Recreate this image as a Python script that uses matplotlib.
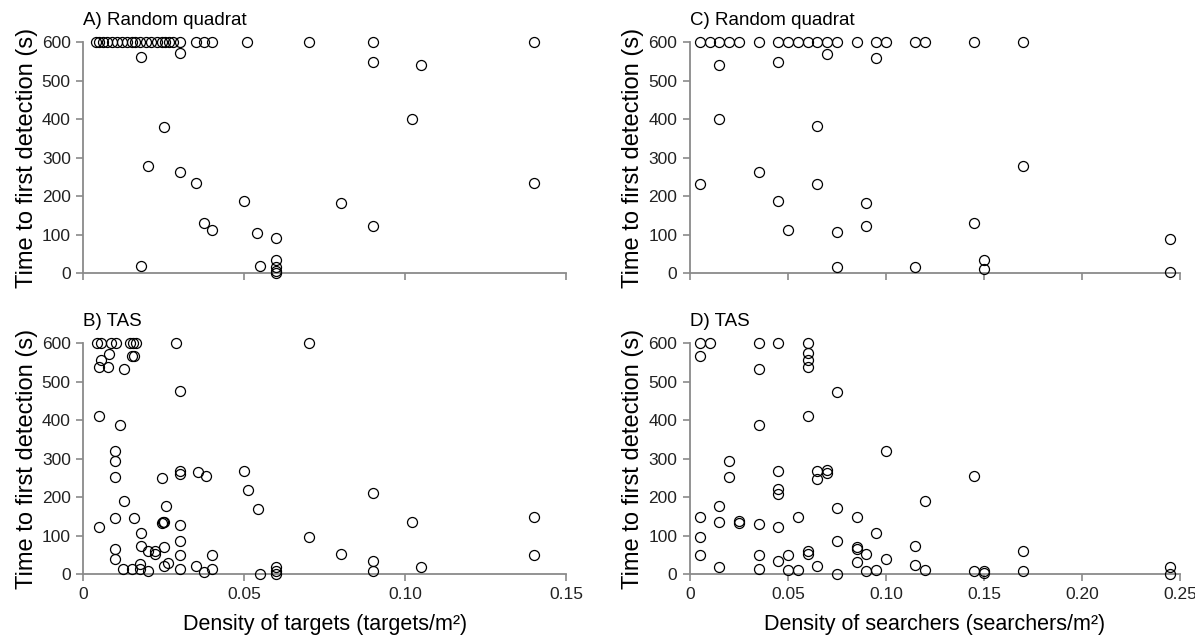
import matplotlib
matplotlib.use('Agg')
import matplotlib.pyplot as plt

plt.rcParams['font.family'] = ['Liberation Sans', 'DejaVu Sans']

# A) random quadrat, time vs density of targets
a_x = [0.004, 0.005, 0.006, 0.0075, 0.009, 0.0105, 0.012, 0.0135, 0.015, 0.016,
       0.0175, 0.0195, 0.021, 0.023, 0.0245, 0.0255, 0.0265, 0.028, 0.030, 0.035,
       0.0375, 0.040, 0.051, 0.070, 0.090, 0.140,
       0.018, 0.030, 0.025, 0.020, 0.030, 0.035, 0.050, 0.0375, 0.040, 0.054,
       0.060, 0.060, 0.060, 0.060, 0.060, 0.055, 0.018, 0.080, 0.090, 0.090,
       0.105, 0.102, 0.140]
a_y = [600] * 26 + [560, 571, 380, 277, 262, 233, 186, 130, 111, 105,
                    91, 33, 16, 5, 0, 17, 17, 182, 121, 547,
                    540, 400, 233]

# B) TAS, time vs density of targets
b_x = [0.0044, 0.0056, 0.0086, 0.0101, 0.0145, 0.0155, 0.0165, 0.0288, 0.070,
       0.008, 0.0056, 0.0048, 0.0076, 0.0125, 0.0151, 0.0157, 0.030, 0.005, 0.0113,
       0.010, 0.010, 0.010, 0.0125, 0.010, 0.005, 0.0157, 0.018, 0.018, 0.010,
       0.010, 0.020, 0.0223, 0.0223, 0.025, 0.0244, 0.0256, 0.0244, 0.0248, 0.0252,
       0.030, 0.030, 0.030, 0.030, 0.030, 0.030, 0.0356, 0.038, 0.040, 0.040,
       0.035, 0.0375, 0.0264, 0.025, 0.0175, 0.0175, 0.0151, 0.0123, 0.020, 0.050,
       0.0512, 0.0543, 0.055, 0.060, 0.060, 0.060, 0.070, 0.080, 0.090, 0.090,
       0.090, 0.102, 0.105, 0.140, 0.140]
b_y = [600, 600, 600, 600, 600, 600, 600, 600, 600,
       571, 556, 539, 539, 532, 565, 565, 476, 411, 388,
       320, 294, 253, 190, 145, 123, 145, 107, 74, 65,
       39, 59, 59, 52, 69, 249, 177, 132, 135, 136,
       268, 260, 128, 85, 50, 13, 266, 254, 50, 13,
       22, 6, 28, 20, 26, 13, 12, 12, 9, 268,
       219, 169, 0, 19, 7, 0, 97, 52, 210, 35,
       7, 134, 19, 147, 50]

# C) random quadrat, time vs density of searchers
c_x = [0.005, 0.010, 0.015, 0.020, 0.025, 0.035, 0.045, 0.050, 0.055, 0.060,
       0.065, 0.070, 0.075, 0.085, 0.095, 0.100, 0.115, 0.120, 0.145, 0.170,
       0.015, 0.015, 0.005, 0.035, 0.045, 0.045, 0.050, 0.065, 0.065, 0.070,
       0.075, 0.075, 0.090, 0.090, 0.095, 0.115, 0.145, 0.150, 0.150, 0.170,
       0.245, 0.245]
c_y = [600] * 20 + [540, 400, 231, 263, 548, 187, 112, 382, 231, 570,
                    106, 16, 181, 121, 559, 16, 130, 33, 10, 278,
                    88, 2]

# D) TAS, time vs density of searchers
d_x = [0.005, 0.010, 0.005, 0.035, 0.045, 0.060, 0.060, 0.060, 0.060, 0.035,
       0.075, 0.060, 0.035, 0.100, 0.020, 0.020, 0.045, 0.065, 0.070, 0.070,
       0.065, 0.145, 0.045, 0.045, 0.120, 0.015, 0.075, 0.005, 0.055, 0.085,
       0.015, 0.025, 0.025, 0.035, 0.045, 0.005, 0.095, 0.075, 0.085, 0.085,
       0.115, 0.060, 0.060, 0.090, 0.170, 0.005, 0.035, 0.050, 0.100, 0.045,
       0.085, 0.015, 0.065, 0.115, 0.035, 0.050, 0.055, 0.120, 0.095, 0.090,
       0.075, 0.145, 0.150, 0.150, 0.170, 0.245, 0.245]
d_y = [600, 600, 565, 600, 600, 600, 573, 556, 539, 532,
       474, 411, 388, 320, 294, 253, 268, 267, 271, 262,
       248, 255, 221, 209, 190, 177, 171, 147, 147, 147,
       134, 137, 132, 130, 123, 97, 107, 85, 69, 65,
       74, 59, 52, 52, 59, 50, 50, 50, 39, 35,
       30, 19, 22, 24, 13, 11, 11, 11, 11, 7,
       0, 7, 9, 2, 9, 19, 0]

panels = [
    ('A) Random quadrat', a_x, a_y, 0.15),
    ('C) Random quadrat', c_x, c_y, 0.25),
    ('B) TAS', b_x, b_y, 0.15),
    ('D) TAS', d_x, d_y, 0.25),
]
xticks_targets = [0, 0.05, 0.10, 0.15]
xticks_searchers = [0, 0.05, 0.10, 0.15, 0.20, 0.25]

fig = plt.figure(figsize=(11.95, 6.37), dpi=100)
lefts = [0.0697, 0.5774]
widths = [0.404, 0.410]
bottoms = [0.5714, 0.0989]
h = 0.3626

axes = []
for i, (title, xs, ys, xmax) in enumerate(panels):
    row, col = i // 2, i % 2
    ax = fig.add_axes([lefts[col], bottoms[row], widths[col], h])
    ax.plot(xs, ys, 'o', ms=7.2, mfc='none', mec='black', mew=0.9, clip_on=False, zorder=3)
    ax.set_xlim(0, xmax)
    ax.set_ylim(0, 600)
    ax.set_yticks(range(0, 601, 100))
    ticks = xticks_targets if xmax == 0.15 else xticks_searchers
    ax.set_xticks(ticks)
    if row == 0:
        ax.set_xticklabels([])
    else:
        ax.set_xticklabels(['0'] + ['%.2f' % t for t in ticks[1:]])
    for s in ['top', 'right']:
        ax.spines[s].set_visible(False)
    for s in ['left', 'bottom']:
        ax.spines[s].set_color('#8a8a8a')
        ax.spines[s].set_linewidth(1.3)
    ax.tick_params(direction='out', length=5, width=1.2, color='#8a8a8a',
                   labelsize=12.5, labelcolor='#222222', pad=4)
    ax.set_ylabel('Time to first detection (s)', fontsize=17, labelpad=3)
    ax.text(0.0, 1.095, title, transform=ax.transAxes, fontsize=13.5, ha='left', va='center')
    axes.append(ax)

axes[2].set_xlabel('Density of targets (targets/m²)', fontsize=15.5, labelpad=9)
axes[3].set_xlabel('Density of searchers (searchers/m²)', fontsize=15.5, labelpad=9)

plt.savefig('out.png', dpi=100)
